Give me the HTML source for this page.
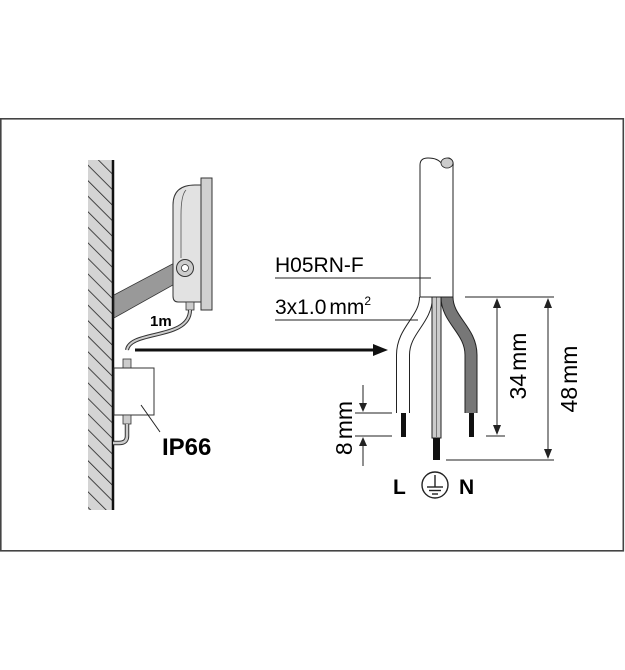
<!DOCTYPE html>
<html><head><meta charset="utf-8"><style>html,body{margin:0;padding:0;background:#fff}svg{display:block}</style></head><body>
<svg width="625" height="670" viewBox="0 0 625 670" xmlns="http://www.w3.org/2000/svg" font-family="Liberation Sans, Arial, sans-serif">
<defs>
<pattern id="h" width="11" height="11" patternUnits="userSpaceOnUse" patternTransform="rotate(-45)">
<line x1="0" y1="0" x2="0" y2="11" stroke="#222" stroke-width="1.6"/>
</pattern>
</defs>
<rect x="0.8" y="118.8" width="622.5" height="432" fill="none" stroke="#444" stroke-width="1.6"/>
<!-- wall -->
<rect x="88" y="160" width="25" height="350" fill="#d4d4d4"/>
<rect x="88" y="160" width="25" height="350" fill="url(#h)"/>
<line x1="113" y1="160" x2="113" y2="510" stroke="#111" stroke-width="2.5"/>
<!-- arm -->
<polygon points="114,295 180,260 189,276 114,318" fill="#999" stroke="#333" stroke-width="0.8"/>
<!-- fixture -->
<path d="M173,205 Q173,185 195,185 L201,185 L201,302 L178,302 Q173,302 173,296 Z" fill="#e2e2e2" stroke="#333" stroke-width="1"/>
<path d="M186,190 Q181,195 181,215 L181,258" fill="none" stroke="#555" stroke-width="0.8"/>
<rect x="201" y="178" width="11" height="132" fill="#d0d0d0" stroke="#333" stroke-width="1"/>
<circle cx="185" cy="268" r="8.5" fill="#ccc" stroke="#333" stroke-width="1"/>
<circle cx="185" cy="268" r="3.5" fill="#fff" stroke="#333" stroke-width="0.8"/>
<rect x="186" y="302" width="8" height="8" fill="#ccc" stroke="#333" stroke-width="0.8"/>
<!-- cable from fixture -->
<path d="M190,310 C190,340 130,330 127,350" fill="none" stroke="#333" stroke-width="4"/>
<path d="M190,310 C190,340 130,330 127,350" fill="none" stroke="#ccc" stroke-width="2"/>
<text x="150" y="326" font-size="15" font-weight="bold">1m</text>
<!-- box -->
<rect x="123" y="359" width="8" height="9" fill="#ccc" stroke="#333" stroke-width="0.8"/>
<rect x="114" y="368" width="40" height="47" fill="#fff" stroke="#333" stroke-width="1"/>
<rect x="123" y="415" width="8" height="9" fill="#ccc" stroke="#333" stroke-width="0.8"/>
<path d="M127,424 L127,436 Q127,443 119,443 L113,443" fill="none" stroke="#333" stroke-width="4.5"/>
<path d="M127,424 L127,436 Q127,443 119,443 L113,443" fill="none" stroke="#ccc" stroke-width="2.5"/>
<line x1="141" y1="405" x2="160" y2="432" stroke="#222" stroke-width="1"/>
<text x="162" y="455" font-size="24" font-weight="bold">IP66</text>
<!-- arrow -->
<line x1="135" y1="350" x2="375" y2="350" stroke="#111" stroke-width="3"/>
<polygon points="388,350 373,344 373,356" fill="#111"/>
<!-- wires -->
<path d="M426,297 C426,320 403,330 403,355 L403,413" fill="none" stroke="#222" stroke-width="14"/>
<path d="M426,297 C426,320 403,330 403,355 L403,413" fill="none" stroke="#fff" stroke-width="12"/>
<path d="M447,297 C447,320 471,330 471,355 L471,413" fill="none" stroke="#222" stroke-width="13"/>
<path d="M447,297 C447,320 471,330 471,355 L471,413" fill="none" stroke="#777" stroke-width="11"/>
<rect x="432" y="297" width="9" height="141" fill="#ccc" stroke="#222" stroke-width="1"/>
<line x1="436.5" y1="297" x2="436.5" y2="438" stroke="#777" stroke-width="1"/>
<rect x="401" y="413" width="5" height="24" fill="#111"/>
<rect x="469" y="413" width="5" height="24" fill="#111"/>
<rect x="433" y="438" width="7" height="22" fill="#111"/>
<!-- jacket -->
<path d="M420,297 L420,165 Q420,158 428,158 Q438,158 442,164 Q444,158 449,158 Q454,160 453,166 L453,297 Z" fill="#fff" stroke="#222" stroke-width="1"/>
<ellipse cx="447" cy="163" rx="6" ry="5" fill="#ccc" stroke="#222" stroke-width="0.8"/>
<!-- labels -->
<text x="275" y="272" font-size="21">H05RN-F</text>
<line x1="275" y1="278" x2="431" y2="278" stroke="#222" stroke-width="1"/>
<text x="275" y="314" font-size="21">3x1.0<tspan dx="3">mm</tspan><tspan font-size="12" dy="-9">2</tspan></text>
<line x1="275" y1="320" x2="418" y2="320" stroke="#222" stroke-width="1"/>
<!-- dimensions -->
<g stroke="#222" stroke-width="1" fill="none">
<line x1="465" y1="297" x2="554" y2="297"/>
<line x1="486" y1="436" x2="505" y2="436"/>
<line x1="446" y1="460" x2="554" y2="460"/>
<line x1="497" y1="305" x2="497" y2="428"/>
<line x1="548" y1="305" x2="548" y2="452"/>
<line x1="355" y1="413" x2="392" y2="413"/>
<line x1="355" y1="436" x2="392" y2="436"/>
<line x1="363" y1="385" x2="363" y2="405"/>
<line x1="363" y1="444" x2="363" y2="466"/>
</g>
<g fill="#222">
<polygon points="497,298 493,308 501,308"/><polygon points="497,435 493,425 501,425"/>
<polygon points="548,298 544,308 552,308"/><polygon points="548,459 544,449 552,449"/>
<polygon points="363,412 359,403 367,403"/><polygon points="363,437 359,446 367,446"/>
</g>
<text transform="translate(526,366) rotate(-90)" font-size="23" text-anchor="middle">34<tspan dx="3">mm</tspan></text>
<text transform="translate(577,379) rotate(-90)" font-size="23" text-anchor="middle">48<tspan dx="3">mm</tspan></text>
<text transform="translate(352,428) rotate(-90)" font-size="23" text-anchor="middle">8<tspan dx="3">mm</tspan></text>
<text x="393" y="494" font-size="21" font-weight="bold">L</text>
<text x="459" y="494" font-size="21" font-weight="bold">N</text>
<circle cx="435" cy="485" r="13" fill="none" stroke="#222" stroke-width="1.4"/>
<g stroke="#222" stroke-width="1.4"><line x1="435" y1="475" x2="435" y2="487"/><line x1="427" y1="487" x2="443" y2="487"/><line x1="429" y1="490.5" x2="441" y2="490.5"/><line x1="432" y1="494" x2="438" y2="494"/></g>
</svg>
</body></html>
